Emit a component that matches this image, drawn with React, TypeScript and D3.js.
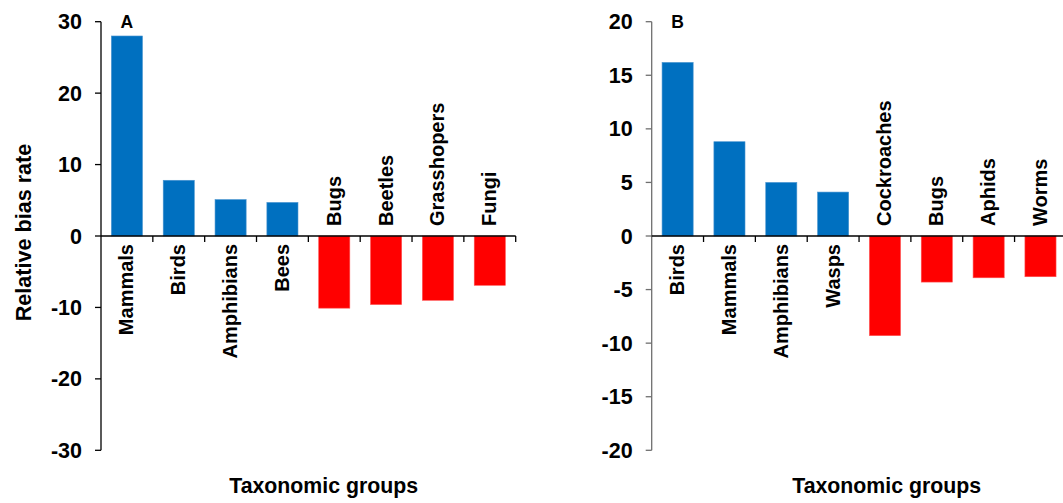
import React from "react";
import * as d3 from "d3";

// Panel A: taxonomic groups and their relative bias rates
const categoriesA = ["Mammals", "Birds", "Amphibians", "Bees", "Bugs", "Beetles", "Grasshopers", "Fungi"];
const valuesA = [28.0, 7.8, 5.1, 4.7, -10.1, -9.6, -9.0, -6.9];
const ticksA = [-30, -20, -10, 0, 10, 20, 30];

// Panel B
const categoriesB = ["Birds", "Mammals", "Amphibians", "Wasps", "Cockroaches", "Bugs", "Aphids", "Worms"];
const valuesB = [16.2, 8.8, 5.0, 4.1, -9.3, -4.3, -3.9, -3.8];
const ticksB = [-20, -15, -10, -5, 0, 5, 10, 15, 20];

const FONT = "'Liberation Sans', Arial, Helvetica, sans-serif";
const BLUE = "#0070C0";
const RED = "#FF0000";

const W = 1063;
const H = 503;
const TOP = 21.7;
const BOTTOM = 450.3;
const PLOT_W = 414.7;

type PanelProps = {
  letter: string;
  left: number;
  categories: string[];
  values: number[];
  ticks: number[];
  yAxisColor: string;
  titleX: number;
  showYTitle: boolean;
};

function Panel({ letter, left, categories, values, ticks, yAxisColor, titleX, showYTitle }: PanelProps) {
  const y = d3
    .scaleLinear()
    .domain([d3.min(ticks) as number, d3.max(ticks) as number])
    .range([BOTTOM, TOP]);
  const x = d3
    .scaleBand<string>()
    .domain(categories)
    .range([left, left + PLOT_W])
    .paddingInner(0.4)
    .paddingOuter(0.2);
  const y0 = y(0);
  const step = x.step();
  const boundaries = categories.map((_, i) => left + (i + 1) * step);

  return (
    <g>
      {/* bars */}
      {categories.map((c, i) => {
        const v = values[i];
        const yTop = y(Math.max(0, v));
        const yBot = y(Math.min(0, v));
        return (
          <rect
            key={c}
            x={x(c)}
            y={yTop}
            width={x.bandwidth()}
            height={yBot - yTop}
            fill={v >= 0 ? BLUE : RED}
            stroke={v >= 0 ? "#4a95d0" : "#ff5050"}
            strokeWidth={0.6}
          />
        );
      })}

      {/* y axis */}
      <line x1={left} x2={left} y1={TOP} y2={BOTTOM} stroke={yAxisColor} strokeWidth={1.3} />
      {ticks.map((t) => (
        <g key={t}>
          <line x1={left - 6} x2={left} y1={y(t)} y2={y(t)} stroke={yAxisColor} strokeWidth={1.3} />
          <text
            x={left - 19}
            y={y(t)}
            dy="0.35em"
            textAnchor="end"
            fontFamily={FONT}
            fontWeight="bold"
            fontSize={21.5}
            fill="#000"
          >
            {String(t)}
          </text>
        </g>
      ))}

      {/* x axis at zero */}
      <line x1={left} x2={left + PLOT_W} y1={y0} y2={y0} stroke="#000" strokeWidth={1.3} />
      {boundaries.map((bx, i) => (
        <line key={i} x1={bx} x2={bx} y1={y0} y2={y0 + 6} stroke="#000" strokeWidth={1.3} />
      ))}

      {/* category labels */}
      {categories.map((c, i) => {
        const cx = (x(c) as number) + x.bandwidth() / 2 - 0.5;
        const pos = values[i] >= 0;
        const ly = pos ? y0 + 8 : y0 - 10;
        return (
          <text
            key={c}
            transform={`translate(${cx},${ly}) rotate(-90)`}
            dy="0.35em"
            textAnchor={pos ? "end" : "start"}
            fontFamily={FONT}
            fontWeight="bold"
            fontSize={20}
            fill="#000"
          >
            {c}
          </text>
        );
      })}

      {/* panel letter */}
      <text
        x={(x(categories[0]) as number) + x.bandwidth() / 2}
        y={28.4}
        textAnchor="middle"
        fontFamily={FONT}
        fontWeight="bold"
        fontSize={17.5}
        fill="#000"
      >
        {letter}
      </text>

      {/* axis titles */}
      <text
        x={titleX}
        y={493.3}
        textAnchor="middle"
        fontFamily={FONT}
        fontWeight="bold"
        fontSize={21.3}
        fill="#000"
      >
        Taxonomic groups
      </text>
      {showYTitle && (
        <text
          transform={`translate(30.5,232.5) rotate(-90)`}
          textAnchor="middle"
          fontFamily={FONT}
          fontWeight="bold"
          fontSize={21.6}
          fill="#000"
        >
          Relative bias rate
        </text>
      )}
    </g>
  );
}

export default function App() {
  return (
    <svg
      width={W}
      height={H}
      viewBox={`0 0 ${W} ${H}`}
      style={{ position: "absolute", left: 0, top: 0, background: "#fff" }}
    >
      <rect width={W} height={H} fill="#fff" />
      <Panel
        letter="A"
        left={101}
        categories={categoriesA}
        values={valuesA}
        ticks={ticksA}
        yAxisColor="#000"
        titleX={323.7}
        showYTitle={true}
      />
      <Panel
        letter="B"
        left={651.7}
        categories={categoriesB}
        values={valuesB}
        ticks={ticksB}
        yAxisColor="#6f6f6f"
        titleX={886.7}
        showYTitle={false}
      />
    </svg>
  );
}
